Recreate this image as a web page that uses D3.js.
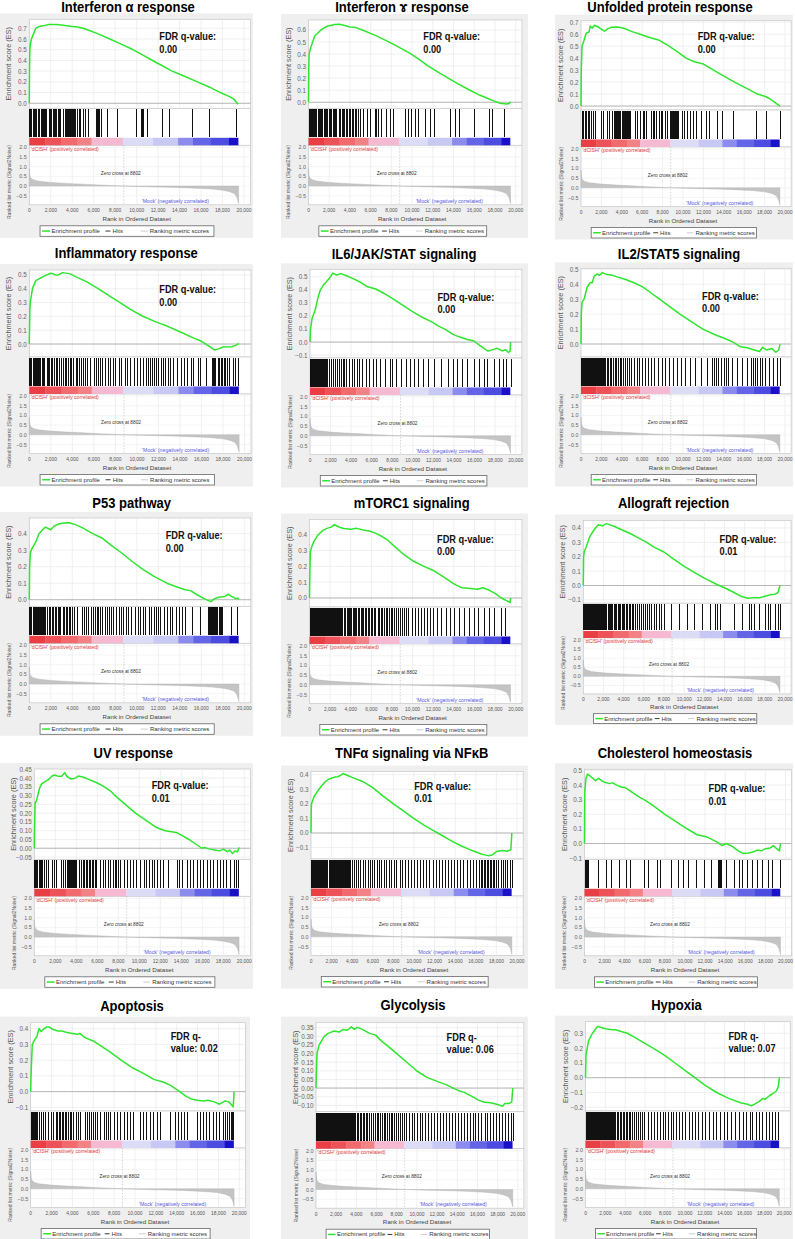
<!DOCTYPE html>
<html><head><meta charset="utf-8">
<script src="https://cdn.jsdelivr.net/npm/d3@7"></script>
<style>body{margin:0;background:#fff} svg{display:block;font-family:"Liberation Sans",Arial,"DejaVu Sans",sans-serif}</style>
</head><body>
<script>
// ---------------- DATA ----------------
const titles = ["Interferon α response","Interferon ɤ response","Unfolded protein response",
  "Inflammatory response","IL6/JAK/STAT signaling","IL2/STAT5 signaling",
  "P53 pathway","mTORC1 signaling","Allograft rejection",
  "UV response","TNFα signaling via NFκB","Cholesterol homeostasis",
  "Apoptosis","Glycolysis","Hypoxia"];
const fdrTexts = [["FDR q-value:","0.00"],["FDR q-value:","0.00"],["FDR q-value:","0.00"],
  ["FDR q-value:","0.00"],["FDR q-value:","0.00"],["FDR q-value:","0.00"],
  ["FDR q-value:","0.00"],["FDR q-value:","0.00"],["FDR q-value:","0.01"],
  ["FDR q-value:","0.01"],["FDR q-value:","0.01"],["FDR q-value:","0.01"],
  ["FDR q-","value: 0.02"],["FDR q-","value: 0.06"],["FDR q-","value: 0.07"]];
const esDomains = [[-0.047,0.784],[-0.05,0.683],[-0.033,0.713],[-0.094,0.536],[-0.122,0.557],[-0.087,0.507],
  [-0.04,0.495],[-0.057,0.496],[-0.123,0.452],[-0.063,0.452],[-0.178,0.421],[-0.108,0.508],
  [-0.123,0.438],[-0.137,0.379],[-0.225,0.378]];
const esTicks = [[0,0.1,0.2,0.3,0.4,0.5,0.6,0.7],[0,0.1,0.2,0.3,0.4,0.5,0.6],[0,0.1,0.2,0.3,0.4,0.5,0.6,0.7],
  [0,0.1,0.2,0.3,0.4,0.5],[-0.1,0,0.1,0.2,0.3,0.4,0.5],[0,0.1,0.2,0.3,0.4,0.5],
  [0,0.1,0.2,0.3,0.4],[0,0.1,0.2,0.3,0.4],[-0.1,0,0.1,0.2,0.3,0.4],
  [-0.05,0,0.05,0.1,0.15,0.2,0.25,0.3,0.35,0.4,0.45],[-0.1,0,0.1,0.2,0.3,0.4],[-0.1,0,0.1,0.2,0.3,0.4,0.5],
  [-0.1,0,0.1,0.2,0.3,0.4],[-0.1,-0.05,0,0.05,0.1,0.15,0.2,0.25,0.3,0.35],[-0.2,-0.1,0,0.1,0.2,0.3]];
const esTickFormats = [".1f",".1f",".1f",".1f",".1f",".1f",".1f",".1f",".1f",".2f",".1f",".1f",".1f",".2f",".1f"];

const esIFNa = [[0,0],[20,0.3],[50,0.5],[100,0.55],[200,0.6],[400,0.65],[600,0.7],[1000,0.72],[1400,0.725],[1800,0.735],[2500,0.735],[3000,0.73],[3800,0.72],[4500,0.712],[5000,0.7],[5600,0.68],[6300,0.653],[7500,0.6],[8500,0.555],[9600,0.504],[10500,0.455],[11400,0.404],[12300,0.355],[13200,0.305],[14400,0.255],[15600,0.202],[16800,0.15],[17800,0.1],[18700,0.06],[19100,0.035],[19300,0.01],[19400,-0.005],[19450,0.0]];
const esIFNg = [[0,0],[30,0.3],[60,0.4],[200,0.45],[400,0.5],[600,0.55],[1200,0.6],[1800,0.632],[2500,0.645],[3000,0.647],[3500,0.638],[4000,0.625],[4500,0.622],[5200,0.6],[6500,0.553],[7700,0.503],[8800,0.453],[9800,0.406],[10600,0.36],[11500,0.304],[12500,0.25],[13400,0.204],[14400,0.155],[15400,0.108],[16500,0.06],[17200,0.035],[17800,0.014],[18500,-0.008],[19100,-0.015],[19400,-0.01],[19500,0.005]];
const esUPR = [[0,0],[30,0.3],[100,0.5],[300,0.55],[500,0.608],[800,0.62],[900,0.669],[1100,0.65],[1300,0.675],[1700,0.66],[2100,0.636],[2300,0.625],[2600,0.645],[3000,0.658],[3600,0.66],[4200,0.65],[5000,0.622],[5800,0.6],[6800,0.57],[7600,0.552],[8600,0.502],[9500,0.45],[10300,0.4],[11100,0.37],[12000,0.351],[13000,0.3],[14000,0.25],[15100,0.198],[16200,0.15],[17300,0.1],[18100,0.08],[18500,0.061],[19000,0.03],[19500,0.0]];
const esInflam = [[0,0],[50,0.25],[100,0.307],[300,0.403],[600,0.459],[1000,0.476],[1500,0.497],[2000,0.512],[2600,0.497],[3100,0.517],[3800,0.508],[4300,0.488],[5300,0.452],[6400,0.401],[7400,0.35],[8400,0.302],[9400,0.251],[10500,0.203],[11700,0.162],[12800,0.13],[14000,0.089],[15400,0.039],[16000,0.02],[16600,-0.01],[17200,-0.043],[17600,-0.035],[18000,-0.022],[18800,-0.02],[19200,-0.01],[19500,0.005]];
const esIL6 = [[0,0],[50,0.097],[200,0.179],[500,0.245],[800,0.347],[1000,0.398],[1300,0.436],[1600,0.462],[2000,0.5],[2200,0.528],[2600,0.513],[3000,0.524],[3500,0.51],[4300,0.482],[5000,0.454],[5600,0.423],[6400,0.406],[7200,0.372],[8000,0.334],[9000,0.283],[9900,0.237],[10800,0.194],[11800,0.156],[12500,0.122],[13200,0.095],[13900,0.059],[14500,0.04],[15300,0.02],[15900,0.01],[16600,-0.031],[17300,-0.069],[17800,-0.058],[18200,-0.048],[18700,-0.068],[19000,-0.058],[19300,-0.08],[19450,-0.07],[19500,0.0]];
const esIL2 = [[0,0],[30,0.2],[100,0.279],[300,0.3],[600,0.38],[900,0.41],[1100,0.41],[1300,0.455],[1600,0.469],[1800,0.46],[2100,0.478],[2500,0.466],[3000,0.462],[3600,0.448],[4000,0.44],[4500,0.429],[5200,0.41],[6000,0.384],[6700,0.35],[7700,0.301],[8700,0.25],[9700,0.2],[10800,0.15],[12000,0.098],[13200,0.06],[14000,0.04],[15000,0.009],[15600,-0.018],[16300,-0.025],[17000,-0.04],[17500,-0.05],[17800,-0.022],[18200,-0.04],[18700,-0.03],[19100,-0.055],[19400,-0.04],[19500,0.0]];
const esP53 = [[0,0],[30,0.2],[100,0.283],[200,0.303],[600,0.35],[900,0.4],[1300,0.428],[1500,0.44],[2000,0.424],[2300,0.445],[2700,0.458],[3200,0.465],[3700,0.466],[4300,0.455],[5000,0.434],[5900,0.4],[6800,0.372],[7600,0.331],[8600,0.283],[9600,0.23],[10600,0.182],[11600,0.141],[12800,0.1],[13800,0.075],[14500,0.06],[15000,0.055],[15600,0.03],[16300,0.005],[16900,-0.012],[17200,0.005],[17600,0.015],[18200,0.02],[18500,0.034],[18800,0.02],[19000,0.015],[19200,0.005],[19400,0.01],[19500,0.0]];
const esMTORC1 = [[0,0],[20,0.1],[80,0.292],[200,0.32],[400,0.354],[800,0.396],[1300,0.427],[1700,0.44],[2100,0.448],[2400,0.464],[2800,0.45],[3300,0.439],[4000,0.435],[4600,0.44],[5200,0.43],[5800,0.423],[6400,0.41],[7000,0.39],[7600,0.365],[8300,0.323],[9200,0.272],[10100,0.232],[11000,0.203],[12000,0.174],[13000,0.133],[14000,0.089],[14800,0.064],[15600,0.06],[16300,0.055],[16800,0.065],[17400,0.05],[18000,0.029],[18600,0.0],[19200,-0.02],[19450,-0.029],[19500,0.0]];
const esAllo = [[0,0],[30,0.2],[100,0.237],[300,0.27],[600,0.333],[900,0.37],[1200,0.4],[1500,0.423],[1900,0.415],[2300,0.43],[2700,0.42],[3100,0.41],[3800,0.388],[4700,0.36],[5500,0.33],[6300,0.3],[7000,0.267],[8000,0.233],[9000,0.181],[10000,0.133],[11000,0.091],[12000,0.051],[13200,0.009],[14100,-0.019],[14900,-0.047],[15700,-0.077],[16300,-0.088],[16900,-0.085],[17500,-0.085],[18000,-0.075],[18500,-0.065],[19000,-0.06],[19300,-0.05],[19500,0.0]];
const esUV = [[0,0],[20,0.1],[80,0.257],[200,0.27],[500,0.342],[700,0.367],[1000,0.38],[1300,0.39],[1700,0.412],[1900,0.418],[2300,0.41],[2600,0.41],[2900,0.431],[3100,0.41],[3500,0.395],[3900,0.4],[4200,0.412],[4700,0.405],[5300,0.39],[6000,0.372],[6600,0.353],[7300,0.325],[7700,0.3],[8660,0.25],[9630,0.2],[10850,0.15],[11580,0.12],[12460,0.1],[13530,0.09],[14000,0.075],[14740,0.05],[15470,0.02],[15960,0.0],[16200,0.005],[16700,-0.005],[17180,-0.01],[17660,-0.015],[18000,-0.005],[18400,-0.02],[18600,-0.01],[18880,-0.03],[19100,-0.015],[19370,-0.02],[19500,0.005]];
const esTNF = [[0,0],[20,0.15],[50,0.2],[300,0.25],[600,0.282],[1000,0.32],[1400,0.353],[1800,0.37],[2200,0.381],[2600,0.385],[3000,0.4],[3100,0.407],[3500,0.395],[4000,0.381],[5000,0.353],[6000,0.311],[7000,0.252],[8000,0.2],[9000,0.15],[10000,0.099],[11000,0.052],[11800,0.02],[12300,0.0],[13500,-0.049],[14600,-0.089],[15700,-0.122],[16600,-0.146],[17200,-0.155],[17600,-0.15],[18000,-0.127],[18600,-0.12],[19000,-0.125],[19400,-0.115],[19500,0.0]];
const esChol = [[0,0],[30,0.35],[150,0.449],[300,0.475],[600,0.46],[900,0.442],[1100,0.43],[1400,0.447],[1700,0.43],[2000,0.419],[2500,0.41],[2800,0.415],[3200,0.4],[3700,0.385],[4000,0.385],[4500,0.362],[5500,0.316],[6100,0.293],[7000,0.251],[8000,0.2],[9100,0.15],[10200,0.101],[11200,0.06],[12200,0.044],[13200,0.01],[13700,-0.015],[14100,0.0],[14700,-0.02],[15300,-0.05],[15800,-0.069],[16300,-0.065],[16700,-0.06],[17200,-0.045],[17600,-0.05],[18000,-0.035],[18500,-0.03],[18800,-0.015],[19200,-0.04],[19400,-0.05],[19500,0.0]];
const esApop = [[0,0],[30,0.1],[150,0.3],[400,0.332],[600,0.35],[800,0.402],[1000,0.381],[1200,0.395],[1500,0.41],[1800,0.41],[2100,0.396],[2600,0.385],[3000,0.385],[3500,0.375],[4000,0.37],[4500,0.364],[4700,0.37],[5200,0.343],[6000,0.322],[6500,0.3],[7600,0.252],[8700,0.199],[9800,0.15],[10800,0.116],[11800,0.078],[12700,0.061],[13400,0.04],[14300,0.0],[14900,-0.03],[15500,-0.049],[16000,-0.055],[16600,-0.059],[17000,-0.055],[17600,-0.065],[18100,-0.08],[18600,-0.06],[19000,-0.065],[19200,-0.08],[19400,-0.097],[19450,-0.06],[19500,0.0]];
const esGlyc = [[0,0],[20,0.05],[100,0.2],[300,0.249],[800,0.298],[1200,0.317],[1800,0.331],[2300,0.325],[2700,0.34],[3100,0.335],[3500,0.355],[3800,0.34],[4100,0.352],[4600,0.34],[5300,0.317],[5900,0.307],[6500,0.272],[7000,0.249],[8000,0.2],[9000,0.15],[10000,0.099],[11000,0.062],[12000,0.039],[12900,0.02],[13600,0.0],[14300,-0.019],[14700,-0.025],[15500,-0.05],[16100,-0.07],[16700,-0.082],[17300,-0.085],[18000,-0.095],[18500,-0.105],[18700,-0.09],[19100,-0.09],[19400,-0.08],[19500,0.0]];
const esHyp = [[0,0],[50,0.15],[300,0.248],[700,0.3],[1000,0.327],[1200,0.345],[1500,0.34],[2000,0.33],[2500,0.325],[3000,0.323],[3600,0.312],[4200,0.3],[5000,0.27],[5800,0.239],[6800,0.199],[8000,0.149],[9000,0.099],[10000,0.05],[11000,0.0],[12000,-0.05],[13200,-0.1],[14400,-0.14],[15600,-0.169],[16300,-0.18],[16700,-0.19],[17100,-0.175],[17500,-0.16],[17800,-0.14],[18100,-0.145],[18500,-0.122],[18900,-0.105],[19200,-0.09],[19400,-0.06],[19500,0.0]];

// hit positions, in hundreds of ranks
const hitsIFNa = [0,1,2,3,4,5,6,8,9,11,12,13,14,15,16,18,19,20,22,23,24,25,27,28,29,31,33,34,35,36,37,38,39,40,41,42,43,44,46,47,50,52,55,62,63,64,65,67,72,82,99,104,105,106,110,124,130,152,167,193];
const hitsIFNg = [0,1,2,3,4,5,6,7,9,10,11,12,13,15,16,17,18,20,21,22,24,25,26,27,29,30,32,33,34,36,37,39,40,42,43,45,46,48,50,53,56,59,64,65,67,70,75,79,82,93,96,99,103,106,112,117,121,137,141,145,160,174,177,189];
const hitsUPR = [1,2,4,5,7,8,10,12,14,20,22,25,27,30,32,33,34,35,36,37,38,40,41,42,43,44,45,46,47,48,53,55,58,61,62,64,69,71,72,74,76,78,79,82,84,87,88,89,90,91,92,93,94,95,99,101,104,107,110,113,118,123,125,133,138,149,172,181,195];
const hitsInflam = [0,1,2,3,4,5,6,7,8,9,10,12,13,14,16,17,18,20,21,23,25,26,28,29,31,33,34,36,38,39,41,43,44,46,48,50,52,54,56,60,62,64,66,68,70,73,75,78,80,83,85,89,91,94,97,100,103,106,108,110,112,114,116,118,120,122,124,126,129,131,134,137,141,144,147,150,152,157,159,164,170,171,172,173,175,176,178,179,181,182,184,186,189,191,194];
const hitsIL6 = [0,1,2,3,4,5,6,7,8,9,10,11,12,13,14,15,16,17,18,20,22,24,26,28,30,32,33,35,38,41,43,46,48,51,54,57,61,64,68,73,78,80,84,88,93,97,101,105,110,115,121,127,134,139,143,148,153,159,164,169,172,179,184,188,191,195];
const hitsIL2 = [0,1,2,3,4,5,6,7,8,9,10,11,12,13,14,15,16,17,18,19,20,21,22,23,24,25,26,28,29,31,33,34,36,38,39,41,43,45,47,49,52,55,57,60,63,66,69,72,75,79,82,86,90,94,98,102,107,112,118,124,128,130,132,134,137,140,142,144,148,153,158,163,167,169,171,173,175,177,180,184,188,192,195];
const hitsP53 = [0,1,2,3,4,5,6,7,8,9,10,11,12,13,14,15,16,18,19,21,22,24,25,27,28,29,31,32,34,35,37,38,40,42,44,49,51,53,55,57,59,61,63,64,66,68,70,72,74,76,78,81,83,85,87,90,92,95,98,101,103,106,108,111,113,116,118,120,122,125,128,131,133,136,139,142,145,151,159,166,167,168,169,170,171,172,173,174,175,176,177,178,179,188,193];
const hitsMTORC1 = [0,1,2,3,4,5,6,7,8,9,10,11,12,13,14,15,16,17,18,19,20,21,22,23,24,25,26,27,28,29,30,31,32,33,34,36,37,38,39,40,42,43,44,45,47,48,50,51,52,54,55,57,58,60,61,63,64,66,67,69,70,72,74,75,77,79,80,82,84,86,88,90,92,94,96,99,102,105,108,111,114,117,120,124,128,132,136,140,145,150,155,160,163,169,174,179,186,190];
const hitsAllo = [0,1,2,3,4,5,6,7,8,9,10,11,12,13,14,15,16,17,18,19,20,21,22,23,24,25,26,27,28,30,31,32,34,35,36,38,39,40,42,43,45,46,48,49,51,53,55,57,59,61,63,65,67,70,72,75,77,80,87,95,103,110,118,126,131,133,136,149,157,164,166,169,174,180,183,185,190,193,195];
const hitsUV = [0,1,2,3,4,5,6,7,9,11,13,17,19,21,25,27,29,31,32,33,34,35,36,37,38,39,40,43,44,46,47,49,50,52,53,55,56,58,59,63,65,67,70,72,75,77,78,80,82,85,88,91,94,97,101,104,106,109,112,114,117,120,123,127,136,138,141,145,148,151,155,158,161,164,167,170,174,177,180,183,186,190,192,194];
const hitsTNF = [0,1,2,3,4,5,6,7,8,9,10,11,12,13,14,15,16,17,18,19,20,21,22,23,24,25,26,27,28,29,30,31,32,33,34,35,36,37,38,40,42,44,46,48,50,52,55,57,59,61,64,66,68,71,73,76,78,81,83,86,88,91,94,97,100,103,106,109,112,115,118,121,124,127,130,133,136,139,142,145,148,151,154,157,160,163,165,166,168,169,171,172,174,175,177,178,180,182,184,186,188,190,193,195];
const hitsChol = [0,1,2,3,13,21,26,34,41,45,59,63,72,75,86,93,98,103,111,119,126,133,134,135,136,141,149,154,157,162,167,172,177,183,187,195];
const hitsApop = [0,1,2,3,4,5,6,8,10,12,14,17,19,21,24,25,27,28,30,31,33,34,36,38,39,41,43,45,47,52,54,56,58,60,62,64,66,70,72,74,76,80,83,86,89,92,95,98,105,108,111,114,117,121,124,134,138,141,144,147,150,159,162,165,168,171,175,178,181,184,186,188,190,192,193,194];
const hitsGlyc = [0,1,2,3,4,5,6,7,8,9,10,11,12,13,14,15,16,17,18,19,20,21,22,23,24,25,26,27,28,29,30,31,32,33,34,35,36,37,38,39,41,42,44,45,47,48,50,51,53,55,56,58,60,61,63,65,67,68,70,72,74,75,77,79,81,83,85,87,89,92,95,97,100,103,105,108,111,114,117,120,123,126,129,132,135,138,141,144,147,150,153,156,158,161,164,167,169,172,175,178,181,184,187,190,193,195];
const hitsHyp = [0,1,2,3,4,5,6,7,8,9,10,11,12,13,14,15,16,17,18,19,20,21,22,23,24,25,26,27,28,29,30,32,33,35,36,38,39,41,42,44,45,47,49,51,53,55,57,59,63,66,69,72,75,78,80,83,86,88,91,94,97,100,104,107,110,113,117,120,124,128,131,135,139,142,146,150,154,158,161,165,168,172,175,178,182,185,188,191,194];

const esCurves = [esIFNa,esIFNg,esUPR,esInflam,esIL6,esIL2,esP53,esMTORC1,esAllo,esUV,esTNF,esChol,esApop,esGlyc,esHyp];
const hitLists = [hitsIFNa,hitsIFNg,hitsUPR,hitsInflam,hitsIL6,hitsIL2,hitsP53,hitsMTORC1,hitsAllo,hitsUV,hitsTNF,hitsChol,hitsApop,hitsGlyc,hitsHyp];

// ranked list metric (shared)
const metricRanks = [0,50,150,370,800,2000,3500,5000,6500,8802,11000,13800,16000,17000,18000,18600,19000,19200,19350,19450,19500];
const metricValues = [0.9,0.55,0.42,0.33,0.26,0.19,0.14,0.1,0.06,0,-0.035,-0.07,-0.12,-0.155,-0.21,-0.28,-0.36,-0.45,-0.6,-0.8,-0.9];
const colorBarStops = [0,1500,3000,4500,5800,8740,11530,13860,15250,16900,18600,19450];
const colorBarColors = ["#e83e44","#ec5258","#f06a6e","#f28286","#f6b9d2","#dcdcf7","#c8c8f4","#8c8cee","#6464e6","#4c4ce0","#1a10c8"];
const xTicks = [0,2000,4000,6000,8000,10000,12000,14000,16000,18000,20000];
const rankedTicks = [2.0,1.5,1.0,0.5,0.0,-0.5];
const zeroCross = 8802;

// ---------------- LAYOUT (positions) ----------------
const layout = [
 {x0:29.3,x20:244,esTop:19.3,esBot:108.3,s:1,tx:128,ty:7.5,fx:159.3,fy:[36.5,49.5],bg:[0,253]},
 {x0:308.5,x20:515.7,esTop:20,esBot:108.3,s:1,tx:402,ty:7.5,fx:423.3,fy:[36.5,49.5],bg:[281,528]},
 {x0:581,x20:785,esTop:20.7,esBot:110,s:1,tx:670,ty:7.5,fx:697.7,fy:[36.5,49.5],bg:[555,793]},
 {x0:29.3,x20:244.5,esTop:270,esBot:357,s:1,tx:126.3,ty:253.3,fx:159.3,fy:[289.5,302.3],bg:[0,253]},
 {x0:310,x20:515.7,esTop:269.3,esBot:358,s:1,tx:404,ty:254,fx:437.4,fy:[297.3,309.6],bg:[281,528]},
 {x0:581,x20:785,esTop:268.3,esBot:357,s:1,tx:679,ty:254,fx:702,fy:[296,308.3],bg:[555,793]},
 {x0:29.3,x20:244.3,esTop:518,esBot:606.3,s:1,tx:131.7,ty:503.7,fx:165.7,fy:[535.7,548],bg:[0,253]},
 {x0:309.5,x20:515.7,esTop:519.5,esBot:607,s:1,tx:411.7,ty:503.3,fx:437,fy:[539,551.3],bg:[281,528]},
 {x0:583.3,x20:785,esTop:520.5,esBot:603.2,s:0.94,tx:673.5,ty:503.3,fx:719.5,fy:[539,551.3],bg:[555,793]},
 {x0:34.3,x20:244.3,esTop:769,esBot:859.3,s:1,tx:133.3,ty:753,fx:151.7,fy:[785.7,798],bg:[0,253]},
 {x0:311,x20:517,esTop:771.5,esBot:859,s:1,tx:411.7,ty:753,fx:414.2,fy:[786,798.3],bg:[281,528]},
 {x0:584.5,x20:785.5,esTop:769.3,esBot:859.3,s:1,tx:675,ty:753,fx:708.5,fy:[788.5,800.8],bg:[555,793]},
 {x0:30.7,x20:239.3,esTop:1022.7,esBot:1111,s:1,tx:132,ty:1006,fx:170.7,fy:[1036.2,1048.5],bg:[0,250]},
 {x0:316,x20:517.8,esTop:1022.7,esBot:1111.7,s:1,tx:413,ty:1005.7,fx:446.6,fy:[1037,1049.3],bg:[281,528]},
 {x0:585.5,x20:784.3,esTop:1021.7,esBot:1111,s:1,tx:676.5,ty:1005.7,fx:728.4,fy:[1036.2,1048.5],bg:[555,793]}
];

// ---------------- DRAW ----------------
const svg = d3.select("body").append("svg").attr("width",795).attr("height",1239);
svg.append("rect").attr("width",795).attr("height",1239).attr("fill","#fff");

function T(g,x,y,str,o){
  o=o||{};
  const t=g.append("text")
    .attr("transform",`translate(${x},${y})`+(o.rot?` rotate(${o.rot})`:"")+` scale(${o.sx||1},1)`)
    .attr("text-anchor",o.anchor||"start")
    .attr("dominant-baseline","central")
    .attr("font-size",o.size||6)
    .attr("fill",o.fill||"#555")
    .text(str);
  if(o.bold) t.attr("font-weight","bold");
  return t;
}

const metric = metricRanks.map((r,i)=>[r,metricValues[i]]);

titles.forEach((title,i)=>{
  const L=layout[i], s=L.s;
  const g=svg.append("g");
  const x=d3.scaleLinear().domain([0,20000]).range([L.x0,L.x20]);
  const xR=x(20600);
  const y=d3.scaleLinear().domain(esDomains[i]).range([L.esBot,L.esTop]);
  const hitTop=L.esBot+1*s, hitBot=L.esBot+29*s, colTop=L.esBot+29.5*s, colBot=L.esBot+37*s;
  const rBot=L.esBot+96.5*s;
  const yr=d3.scaleLinear().domain([-0.5,2.0]).range([L.esBot+87.5*s,L.esBot+39*s]);
  const legTop=L.esBot+117.5*s, legBot=L.esBot+128*s;

  // panel background
  g.append("rect").attr("x",L.bg[0]).attr("y",L.esTop-6).attr("width",L.bg[1]-L.bg[0])
    .attr("height",legBot+1.5-(L.esTop-6)).attr("fill","#efefef");
  // white plot areas
  [[L.esTop,L.esBot],[L.esBot,colBot],[colBot,rBot]].forEach(([a,b])=>{
    g.append("rect").attr("x",L.x0).attr("y",a).attr("width",xR-L.x0).attr("height",b-a)
      .attr("fill","#fff").attr("stroke","#c6c6c6").attr("stroke-width",0.7);
  });
  // grid
  xTicks.slice(1).forEach(t=>{
    g.append("line").attr("x1",x(t)).attr("x2",x(t)).attr("y1",L.esTop).attr("y2",L.esBot)
      .attr("stroke","#e6e6e6").attr("stroke-width",0.6);
    g.append("line").attr("x1",x(t)).attr("x2",x(t)).attr("y1",colBot).attr("y2",rBot)
      .attr("stroke","#e6e6e6").attr("stroke-width",0.6);
  });
  esTicks[i].forEach(t=>{
    g.append("line").attr("x1",L.x0).attr("x2",xR).attr("y1",y(t)).attr("y2",y(t))
      .attr("stroke","#e6e6e6").attr("stroke-width",0.6);
  });
  rankedTicks.forEach(t=>{
    g.append("line").attr("x1",L.x0).attr("x2",xR).attr("y1",yr(t)).attr("y2",yr(t))
      .attr("stroke","#ececec").attr("stroke-width",0.6);
  });
  // zero line
  g.append("line").attr("x1",L.x0).attr("x2",xR).attr("y1",y(0)).attr("y2",y(0))
    .attr("stroke","#a8a8a8").attr("stroke-width",0.8);
  // ES curve
  g.append("path").datum(esCurves[i])
    .attr("d",d3.line().x(d=>x(d[0])).y(d=>y(d[1])))
    .attr("fill","none").attr("stroke","#2ee62e").attr("stroke-width",1.5).attr("stroke-linejoin","round");
  // hits
  g.append("g").attr("shape-rendering","crispEdges").selectAll("line").data(hitLists[i]).join("line")
    .attr("x1",d=>x(d*100)+0.5).attr("x2",d=>x(d*100)+0.5)
    .attr("y1",hitTop).attr("y2",hitBot)
    .attr("stroke","#111").attr("stroke-width",1);
  // color bar
  colorBarColors.forEach((c,k)=>{
    g.append("rect").attr("x",x(colorBarStops[k])).attr("y",colTop)
      .attr("width",x(colorBarStops[k+1])-x(colorBarStops[k])+0.3).attr("height",colBot-colTop)
      .attr("fill",c);
  });
  // ranked metric area
  g.append("path").datum(metric)
    .attr("d",d3.area().x(d=>x(d[0])).y0(yr(0)).y1(d=>yr(d[1])))
    .attr("fill","#c4c4c4").attr("stroke","#b0b0b0").attr("stroke-width",0.4);
  g.append("line").attr("x1",x(zeroCross)).attr("x2",x(zeroCross)).attr("y1",colBot).attr("y2",rBot)
    .attr("stroke","#b8b8b8").attr("stroke-width",0.6).attr("stroke-dasharray","1.5,1.5");
  T(g,x(zeroCross)-3,yr(0.65),"Zero cross at "+zeroCross,{size:4.8,fill:"#333",anchor:"middle"});
  T(g,L.x0+1.5,colBot+3.4*s,"'dCISH' (positively correlated)",{size:5.2,fill:"#e03a3a"});
  T(g,x(13600),rBot-3.8*s,"'Mock' (negatively correlated)",{size:5.2,fill:"#5656e4",anchor:"middle"});

  // tick labels
  const fmt=d3.format(esTickFormats[i]);
  esTicks[i].forEach(t=>T(g,L.x0-2.5,y(t),fmt(t),{size:6.3,fill:"#666",anchor:"end"}));
  rankedTicks.forEach(t=>T(g,L.x0-2.5,yr(t),d3.format(".1f")(t),{size:5.4,fill:"#666",anchor:"end"}));
  const xf=d3.format(",");
  xTicks.forEach(t=>T(g,x(t),L.esBot+102.5*s,xf(t),{size:4.9,fill:"#555",anchor:"middle"}));
  T(g,(x(0)+x(20000))/2,L.esBot+110*s,"Rank in Ordered Dataset",{size:6.2,fill:"#444",anchor:"middle"});
  T(g,L.x0-20.5,(L.esTop+L.esBot)/2,"Enrichment score (ES)",{size:7.3,fill:"#555",anchor:"middle",rot:-90});
  T(g,L.x0-20.5,(colBot+rBot)/2+7,"Ranked list metric (Signal2Noise)",{size:5,fill:"#555",anchor:"middle",rot:-90});

  // legend
  const w=L.x20-L.x0, lx=L.x0+0.05*w, lw=0.81*w, ly=(legTop+legBot)/2;
  g.append("rect").attr("x",lx).attr("y",legTop).attr("width",lw).attr("height",legBot-legTop)
    .attr("fill","#fff").attr("stroke","#666").attr("stroke-width",0.8);
  g.append("line").attr("x1",lx+0.012*lw).attr("x2",lx+0.058*lw).attr("y1",ly).attr("y2",ly)
    .attr("stroke","#2ee62e").attr("stroke-width",1.5);
  T(g,lx+0.066*lw,ly,"Enrichment profile",{size:6,fill:"#333"});
  g.append("line").attr("x1",lx+0.376*lw).attr("x2",lx+0.405*lw).attr("y1",ly).attr("y2",ly)
    .attr("stroke","#222").attr("stroke-width",0.9);
  T(g,lx+0.417*lw,ly,"Hits",{size:6,fill:"#333"});
  g.append("line").attr("x1",lx+0.579*lw).attr("x2",lx+0.619*lw).attr("y1",ly).attr("y2",ly)
    .attr("stroke","#c8c8c8").attr("stroke-width",0.9);
  T(g,lx+0.631*lw,ly,"Ranking metric scores",{size:6,fill:"#333"});

  // title & FDR
  T(svg,L.tx,L.ty,title,{size:14,bold:true,fill:"#000",anchor:"middle",sx:0.93});
  T(svg,L.fx,L.fy[0],fdrTexts[i][0],{size:11,bold:true,fill:"#111",sx:0.84});
  T(svg,L.fx,L.fy[1],fdrTexts[i][1],{size:11,bold:true,fill:"#111",sx:0.84});
});
</script>
</body></html>
